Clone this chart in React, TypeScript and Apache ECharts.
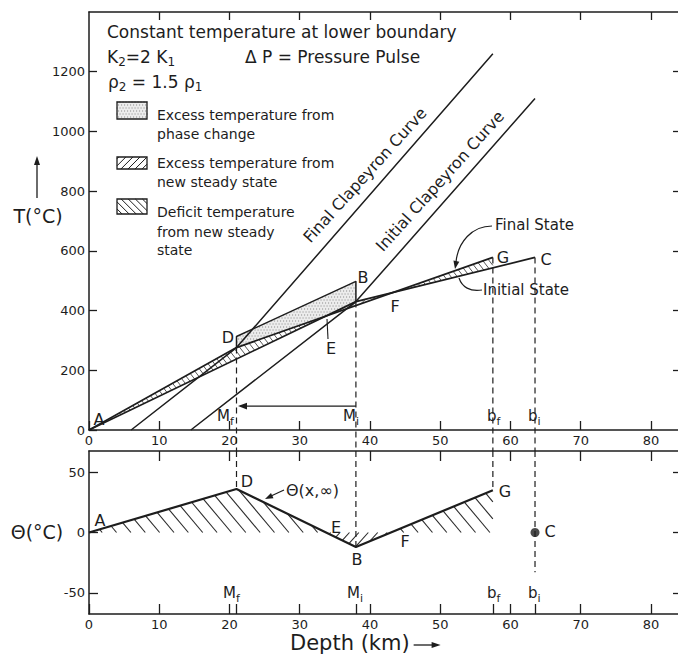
import React, { useEffect, useRef } from "react";
import * as echarts from "echarts";

// ---- axis ticks ----
const depthTicks = [0, 10, 20, 30, 40, 50, 60, 70, 80];
const tempTicks = [0, 200, 400, 600, 800, 1000, 1200];
const thetaTicks = [-50, 0, 50];

// ---- temperature profiles, [depth km, T °C] ----
const initialState = [[0, 0], [38, 430], [63.5, 578]];
const finalState = [[0, 0], [21, 276], [57.5, 578]];
const initialClapeyron = [[14.5, 0], [38, 430], [63.5, 1110]];
const finalClapeyron = [[6, 0], [21, 276], [57.5, 1260]];
const phaseExcessOutline = [[21, 276], [21, 313], [38, 498], [38, 430]];
const boundaryShift = [[38, 80], [21, 80]];

// Mf, Mi, bf, bi
const boundaryDepths = [21, 38, 57.5, 63.5];
const boundaryTemps = [276, 430, 578, 578];
const thetaDashEnds = [36, -12, 35, -33];

// ---- temperature perturbation Θ(x,∞), [depth km, Θ °C] ----
const theta = [[0, 0], [21, 36], [38, -12], [57.5, 35]];
const thetaC = [[63.5, 0]];
const thetaBase = [[0, 0], [57.5, 0]];

// ---- layout ----
const W = 678;
const H = 655;
const LEFT = 89;
const TOP_PANEL_TOP = 12;
const TOP_PANEL_BOTTOM = 430;
const BOT_PANEL_TOP = 451;
const BOT_PANEL_BOTTOM = 614;
const THETA_MAX = 67.5;
const INK = "#1d1d1d";
const FONT = '"DejaVu Sans", "Liberation Sans", sans-serif';

function valueAt(poly: number[][], x: number) {
  for (let i = 0; i < poly.length - 1; i++) {
    const [x0, y0] = poly[i];
    const [x1, y1] = poly[i + 1];
    if (x >= x0 - 1e-9 && x <= x1 + 1e-9) return y0 + ((y1 - y0) * (x - x0)) / (x1 - x0);
  }
  return NaN;
}

// Regions enclosed between two polylines, split where they cross
function bands(upper: number[][], lower: number[][], from: number, to: number) {
  const xs = Array.from(new Set([from, to, ...upper.map((p) => p[0]), ...lower.map((p) => p[0])]))
    .filter((x) => x >= from && x <= to)
    .sort((a, b) => a - b);
  const diff = (x: number) => valueAt(upper, x) - valueAt(lower, x);
  const pts = [xs[0]];
  const roots = new Set<number>();
  for (let i = 0; i < xs.length - 1; i++) {
    const a = xs[i];
    const b = xs[i + 1];
    const da = diff(a);
    const db = diff(b);
    if (da * db < 0) {
      const r = a + ((b - a) * da) / (da - db);
      pts.push(r);
      roots.add(r);
    }
    pts.push(b);
  }
  const out: number[][] = [];
  let seg = [pts[0]];
  for (let i = 1; i < pts.length; i++) {
    seg.push(pts[i]);
    if (roots.has(pts[i])) {
      out.push(seg);
      seg = [pts[i]];
    }
  }
  out.push(seg);
  return out
    .filter((s) => s.length > 1)
    .map((s) => {
      const mid = (s[0] + s[s.length - 1]) / 2;
      return {
        sign: Math.sign(diff(mid)),
        points: [
          ...s.map((x) => [x, valueAt(upper, x)]),
          ...s.slice().reverse().map((x) => [x, valueAt(lower, x)]),
        ],
      };
    });
}

// Parallel hatch segments clipped to a convex pixel polygon
function hatchLines(poly: number[][], angleDeg: number, spacing: number) {
  const a = (angleDeg * Math.PI) / 180;
  const dx = Math.cos(a);
  const dy = Math.sin(a);
  const nx = -dy;
  const ny = dx;
  const proj = poly.map((p) => p[0] * nx + p[1] * ny);
  const lo = Math.min(...proj);
  const hi = Math.max(...proj);
  const segs: number[][] = [];
  for (let c = Math.ceil(lo / spacing) * spacing; c <= hi; c += spacing) {
    const hits: number[][] = [];
    for (let i = 0; i < poly.length; i++) {
      const j = (i + 1) % poly.length;
      const fi = proj[i] - c;
      const fj = proj[j] - c;
      if ((fi <= 0 && fj > 0) || (fi > 0 && fj <= 0)) {
        const t = fi / (fi - fj);
        hits.push([poly[i][0] + (poly[j][0] - poly[i][0]) * t, poly[i][1] + (poly[j][1] - poly[i][1]) * t]);
      }
    }
    if (hits.length >= 2) {
      hits.sort((p, q) => p[0] * dx + p[1] * dy - (q[0] * dx + q[1] * dy));
      const p = hits[0];
      const q = hits[hits.length - 1];
      segs.push([p[0], p[1], q[0], q[1]]);
    }
  }
  return segs;
}

function insideConvex(poly: number[][], x: number, y: number) {
  let sign = 0;
  for (let i = 0; i < poly.length; i++) {
    const j = (i + 1) % poly.length;
    const cr = (poly[j][0] - poly[i][0]) * (y - poly[i][1]) - (poly[j][1] - poly[i][1]) * (x - poly[i][0]);
    if (Math.abs(cr) < 1e-9) continue;
    const s = Math.sign(cr);
    if (sign === 0) sign = s;
    else if (s !== sign) return false;
  }
  return true;
}

function stippleDots(poly: number[][], step: number) {
  const xsP = poly.map((p) => p[0]);
  const ysP = poly.map((p) => p[1]);
  const x0 = Math.min(...xsP);
  const x1 = Math.max(...xsP);
  const y0 = Math.min(...ysP);
  const y1 = Math.max(...ysP);
  const dots: number[][] = [];
  let row = 0;
  for (let y = Math.ceil(y0); y <= y1; y += step, row++) {
    for (let x = Math.ceil(x0) + (row % 2) * (step / 2); x <= x1; x += step) {
      if (insideConvex(poly, x, y)) dots.push([x, y]);
    }
  }
  return dots;
}

const hatchGroup = (segs: number[][], width: number, color = INK) => ({
  type: "group",
  children: segs.map((s) => ({
    type: "line",
    shape: { x1: s[0], y1: s[1], x2: s[2], y2: s[3] },
    style: { stroke: color, lineWidth: width },
  })),
});

const stippleGroup = (poly: number[][]) => ({
  type: "group",
  children: [
    { type: "polygon", shape: { points: poly }, style: { fill: "#ececec", stroke: "none" } },
    ...stippleDots(poly, 3).map((d) => ({
      type: "rect",
      shape: { x: d[0] - 0.5, y: d[1] - 0.5, width: 1.1, height: 1.1 },
      style: { fill: "#8c8c8c" },
    })),
  ],
});

let measureCtx: CanvasRenderingContext2D | null = null;
function measure(text: string, size: number) {
  if (!measureCtx) measureCtx = document.createElement("canvas").getContext("2d");
  measureCtx!.font = `${size}px ${FONT}`;
  return measureCtx!.measureText(text).width;
}

const txt = (text: string, x: number, y: number, size: number, align = "left", rotation = 0) => ({
  type: "text",
  x,
  y,
  rotation,
  silent: true,
  style: {
    text,
    fill: INK,
    font: `${size}px ${FONT}`,
    align,
    verticalAlign: "middle",
    textAlign: align,
    textVerticalAlign: "middle",
  },
});

// text runs with lowered subscripts
function runs(parts: [string, boolean][], x: number, y: number, size: number, subSize: number, drop: number) {
  const els: any[] = [];
  let cx = x;
  for (const [t, sub] of parts) {
    const s = sub ? subSize : size;
    els.push(txt(t, cx, sub ? y + drop : y, s));
    cx += measure(t, s);
  }
  return els;
}

const arrowHead = (tip: number[], angle: number, len = 8, half = 3.2) => {
  const bx = tip[0] - Math.cos(angle) * len;
  const by = tip[1] - Math.sin(angle) * len;
  const px = -Math.sin(angle) * half;
  const py = Math.cos(angle) * half;
  return {
    type: "polygon",
    shape: { points: [tip, [bx + px, by + py], [bx - px, by - py]] },
    style: { fill: INK },
  };
};

const pLine = (x1: number, y1: number, x2: number, y2: number, w = 1.3) => ({
  type: "line",
  shape: { x1, y1, x2, y2 },
  style: { stroke: INK, lineWidth: w },
});

function buildOption() {
  const topBands = bands(finalState, initialState, 0, 57.5);
  const thetaBands = bands(theta, thetaBase, 0, 57.5);
  const stipplePoly = [
    [21, valueAt(finalState, 21)],
    phaseExcessOutline[1],
    phaseExcessOutline[2],
    [38, valueAt(finalState, 38)],
  ];

  const axisLine = { show: true, onZero: false, lineStyle: { color: INK, width: 1.5 } };
  const tickStyle = { color: INK, width: 1.3 };
  const plain = (v: number) => String(v);
  const labelStyle = { color: INK, fontSize: 13, fontFamily: FONT, margin: 4, formatter: plain };

  const xAxisBase = { type: "value", min: 0, max: 84, splitLine: { show: false }, axisLine };
  const xAxis = [
    {
      ...xAxisBase,
      gridIndex: 0,
      position: "bottom",
      axisTick: { show: true, inside: true, length: 9, customValues: depthTicks, lineStyle: tickStyle },
      axisLabel: { ...labelStyle, customValues: depthTicks },
    },
    {
      ...xAxisBase,
      gridIndex: 0,
      position: "top",
      axisTick: { show: true, inside: true, length: 8, customValues: depthTicks.slice(1), lineStyle: tickStyle },
      axisLabel: { show: false },
    },
    {
      ...xAxisBase,
      gridIndex: 1,
      position: "bottom",
      axisTick: {
        show: true,
        inside: true,
        length: 10,
        customValues: [...depthTicks, ...boundaryDepths].sort((a, b) => a - b),
        lineStyle: tickStyle,
      },
      axisLabel: { ...labelStyle, customValues: depthTicks },
    },
    {
      ...xAxisBase,
      gridIndex: 1,
      position: "top",
      axisTick: { show: true, inside: true, length: 10, customValues: depthTicks.slice(1), lineStyle: tickStyle },
      axisLabel: { show: false },
    },
  ];

  const yAxis = [
    {
      type: "value",
      gridIndex: 0,
      position: "left",
      min: 0,
      max: 1400,
      splitLine: { show: false },
      axisLine,
      axisTick: { show: true, inside: true, length: 8, customValues: tempTicks, lineStyle: tickStyle },
      axisLabel: { ...labelStyle, customValues: tempTicks },
    },
    {
      type: "value",
      gridIndex: 0,
      position: "right",
      min: 0,
      max: 1400,
      splitLine: { show: false },
      axisLine,
      axisTick: { show: true, inside: true, length: 6, customValues: tempTicks.slice(1), lineStyle: tickStyle },
      axisLabel: { show: false },
    },
    {
      type: "value",
      gridIndex: 1,
      position: "left",
      min: -THETA_MAX,
      max: THETA_MAX,
      splitLine: { show: false },
      axisLine,
      axisTick: { show: true, inside: true, length: 9, customValues: thetaTicks, lineStyle: tickStyle },
      axisLabel: { ...labelStyle, customValues: thetaTicks },
    },
    {
      type: "value",
      gridIndex: 1,
      position: "right",
      min: -THETA_MAX,
      max: THETA_MAX,
      splitLine: { show: false },
      axisLine,
      axisTick: { show: true, inside: true, length: 6, customValues: thetaTicks, lineStyle: tickStyle },
      axisLabel: { show: false },
    },
  ];

  const curve = (data: number[][], axis: number, width = 1.6, z = 5) => ({
    type: "line",
    xAxisIndex: axis,
    yAxisIndex: axis,
    data,
    symbol: "none",
    silent: true,
    clip: false,
    z,
    lineStyle: { color: INK, width },
  });

  const hatchSeries = (axis: number, regions: any[], pos: number[], neg: number[], width: number) => ({
    type: "custom",
    xAxisIndex: axis,
    yAxisIndex: axis,
    silent: true,
    z: 2,
    data: regions.map((r) => r.points[0]),
    renderItem: (params: any, api: any) => {
      const r = regions[params.dataIndex];
      const poly = r.points.map((p: number[]) => api.coord(p));
      const [ang, sp] = r.sign >= 0 ? pos : neg;
      return hatchGroup(hatchLines(poly, ang, sp), width, "#2a2a2a");
    },
  });

  const series: any[] = [
    hatchSeries(0, topBands, [52, 5], [-45, 5], 0.8),
    {
      type: "custom",
      xAxisIndex: 0,
      yAxisIndex: 0,
      silent: true,
      z: 1,
      data: [stipplePoly[0]],
      renderItem: (_p: any, api: any) => stippleGroup(stipplePoly.map((p) => api.coord(p))),
    },
    curve(initialState, 0, 1.7),
    curve(finalState, 0, 1.7),
    curve(initialClapeyron, 0, 1.5),
    curve(finalClapeyron, 0, 1.5),
    curve(phaseExcessOutline, 0, 1.5),
    {
      // phase-boundary depths, dashed down into the Θ panel
      type: "custom",
      xAxisIndex: 0,
      yAxisIndex: 0,
      silent: true,
      z: 4,
      data: boundaryDepths.map((x, i) => [x, boundaryTemps[i]]),
      renderItem: (_p: any, api: any) => {
        const top = api.coord([api.value(0), api.value(1)]);
        const base = api.coord([api.value(0), 0]);
        return {
          type: "line",
          shape: { x1: top[0], y1: top[1], x2: base[0], y2: base[1] + (BOT_PANEL_TOP - TOP_PANEL_BOTTOM) },
          style: { stroke: INK, lineWidth: 1.2, lineDash: [6, 4] },
        };
      },
    },
    {
      // upward migration of the boundary, Mi -> Mf
      type: "custom",
      xAxisIndex: 0,
      yAxisIndex: 0,
      silent: true,
      z: 4,
      data: [boundaryShift[0]],
      renderItem: (_p: any, api: any) => {
        const a = api.coord(boundaryShift[0]);
        const b = api.coord(boundaryShift[1]);
        return {
          type: "group",
          children: [pLine(a[0], a[1], b[0] + 4, b[1], 1.3), arrowHead([b[0] + 1.5, b[1]], Math.PI, 9, 3.4)],
        };
      },
    },
    hatchSeries(2, thetaBands, [50, 11], [-48, 7], 1.1),
    curve(theta, 2, 2.2),
    {
      type: "scatter",
      xAxisIndex: 2,
      yAxisIndex: 2,
      data: thetaC,
      symbol: "circle",
      symbolSize: 9,
      silent: true,
      z: 6,
      itemStyle: { color: INK },
    },
    {
      type: "custom",
      xAxisIndex: 2,
      yAxisIndex: 2,
      silent: true,
      z: 4,
      data: boundaryDepths.map((x, i) => [x, thetaDashEnds[i]]),
      renderItem: (_p: any, api: any) => {
        const top = api.coord([api.value(0), THETA_MAX]);
        const end = api.coord([api.value(0), api.value(1)]);
        return {
          type: "line",
          shape: { x1: top[0], y1: top[1], x2: end[0], y2: end[1] },
          style: { stroke: INK, lineWidth: 1.2, lineDash: [6, 4] },
        };
      },
    },
  ];

  // legend swatches
  const box1 = [[117, 102], [147, 102], [147, 119], [117, 119]];
  const box2 = [[117, 157], [147, 157], [147, 169], [117, 169]];
  const box3 = [[117, 199], [147, 199], [147, 214], [117, 214]];
  const boxOutline = (b: number[][]) => ({
    type: "polygon",
    shape: { points: b },
    style: { fill: "none", stroke: INK, lineWidth: 1.3 },
  });

  const depthTitle = "Depth (km)";
  const depthTitleEnd = 290 + measure(depthTitle, 21);

  const elements: any[] = [
    txt("Constant temperature at lower boundary", 107, 32, 17),
    ...runs([["K", false], ["2", true], ["=2 K", false], ["1", true]], 107, 57, 17, 12, 5),
    txt("Δ P = Pressure Pulse", 245, 57, 17),
    ...runs([["ρ", false], ["2", true], [" = 1.5 ", false], ["ρ", false], ["1", true]], 108, 82, 17, 12, 5),

    stippleGroup(box1),
    boxOutline(box1),
    hatchGroup(hatchLines(box2, -45, 5), 1),
    boxOutline(box2),
    hatchGroup(hatchLines(box3, 45, 5), 1),
    boxOutline(box3),
    txt("Excess temperature from", 157, 115, 14),
    txt("phase change", 157, 134, 14),
    txt("Excess temperature from", 157, 163, 14),
    txt("new steady state", 157, 182, 14),
    txt("Deficit temperature", 157, 212, 14),
    txt("from new steady", 157, 232, 14),
    txt("state", 157, 250, 14),

    txt("T(°C)", 38, 216, 19, "center"),
    pLine(37, 198, 37, 162, 1.3),
    arrowHead([37, 156], -Math.PI / 2, 9, 3),
    txt("Θ(°C)", 37, 532, 19, "center"),
    txt(depthTitle, 290, 643, 21),
    pLine(depthTitleEnd + 4, 645, depthTitleEnd + 25, 645, 1.3),
    arrowHead([depthTitleEnd + 31, 645], 0, 9, 3),

    txt("Final Clapeyron Curve", 365, 175, 16, "center", (48 * Math.PI) / 180),
    txt("Initial Clapeyron Curve", 440, 181, 16, "center", (48 * Math.PI) / 180),

    txt("A", 99, 419, 16, "center"),
    txt("D", 228, 337, 16, "center"),
    txt("E", 331, 348, 16, "center"),
    pLine(328, 339, 327, 319, 1.1),
    txt("B", 363, 277, 16, "center"),
    txt("F", 395, 306, 16, "center"),
    txt("G", 503, 257, 16, "center"),
    txt("C", 546, 259, 16, "center"),

    txt("Final State", 495, 225, 15),
    {
      type: "bezierCurve",
      shape: { x1: 492, y1: 226, cpx1: 472, cpy1: 226, cpx2: 458, cpy2: 242, x2: 456, y2: 262 },
      style: { stroke: INK, lineWidth: 1.2, fill: "none" },
    },
    arrowHead([455, 269], (100 * Math.PI) / 180, 8, 3),
    txt("Initial State", 483, 290, 15),
    {
      type: "bezierCurve",
      shape: { x1: 482, y1: 290, cpx1: 470, cpy1: 292, cpx2: 462, cpy2: 287, x2: 459, y2: 278 },
      style: { stroke: INK, lineWidth: 1.2, fill: "none" },
    },

    ...runs([["M", false], ["f", true]], 217, 416, 15, 11, 5),
    ...runs([["M", false], ["i", true]], 343, 416, 15, 11, 5),
    ...runs([["b", false], ["f", true]], 487, 416, 15, 11, 5),
    ...runs([["b", false], ["i", true]], 528, 416, 15, 11, 5),

    txt("A", 100, 520, 16, "center"),
    txt("D", 247, 481, 16, "center"),
    txt("E", 336, 527, 16, "center"),
    txt("B", 357, 559, 16, "center"),
    txt("F", 405, 541, 16, "center"),
    txt("G", 505, 491, 16, "center"),
    txt("C", 550, 531, 16, "center"),
    txt("Θ(x,∞)", 286, 490, 16),
    pLine(284, 490, 271, 496, 1.2),
    arrowHead([265, 499], (155 * Math.PI) / 180, 8, 3),

    ...runs([["M", false], ["f", true]], 223, 593, 15, 11, 5),
    ...runs([["M", false], ["i", true]], 347, 593, 15, 11, 5),
    ...runs([["b", false], ["f", true]], 487, 593, 15, 11, 5),
    ...runs([["b", false], ["i", true]], 528, 593, 15, 11, 5),
  ];

  return {
    animation: false,
    backgroundColor: "#ffffff",
    grid: [
      {
        left: LEFT,
        right: -1,
        top: TOP_PANEL_TOP,
        bottom: H - TOP_PANEL_BOTTOM,
        containLabel: false,
        outerBoundsMode: "none",
      },
      {
        left: LEFT,
        right: -1,
        top: BOT_PANEL_TOP,
        bottom: H - BOT_PANEL_BOTTOM,
        containLabel: false,
        outerBoundsMode: "none",
      },
    ],
    xAxis,
    yAxis,
    series,
    graphic: { elements },
  };
}

export default function App() {
  const ref = useRef<HTMLDivElement>(null);
  useEffect(() => {
    const chart = echarts.init(ref.current!, undefined, { renderer: "svg" });
    chart.setOption(buildOption() as any);
    return () => chart.dispose();
  }, []);
  return (
    <div
      ref={ref}
      style={{ position: "absolute", left: 0, top: 0, width: W, height: H, background: "#fff" }}
    />
  );
}
